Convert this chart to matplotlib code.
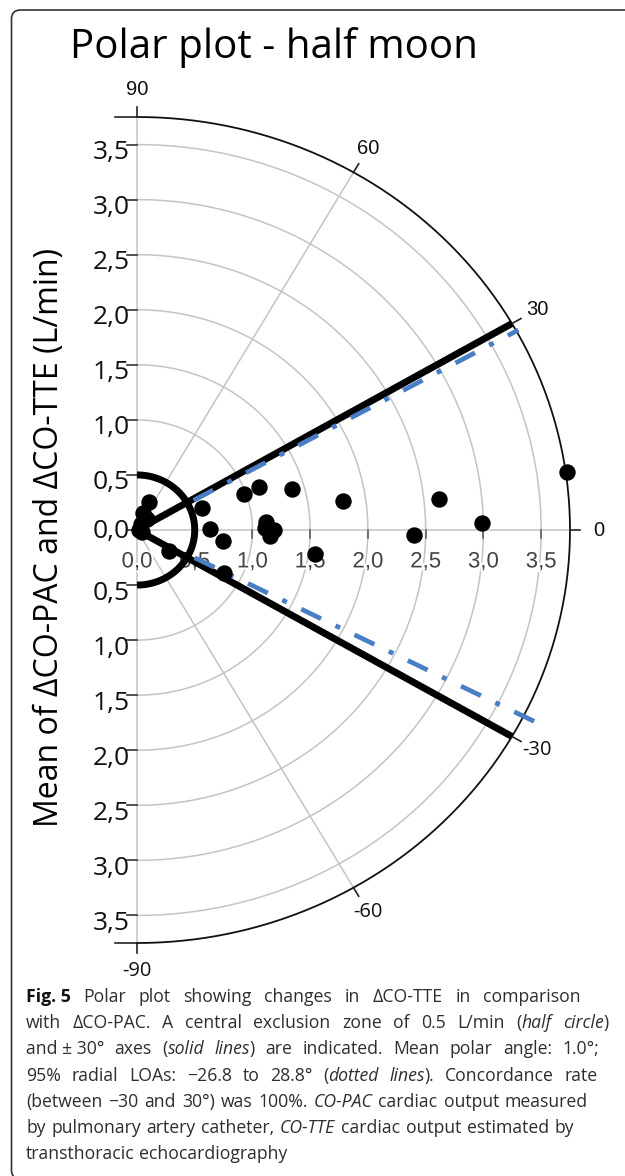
import numpy as np
import matplotlib.pyplot as plt
import matplotlib.patheffects as pe
from matplotlib.patches import FancyBboxPatch
from matplotlib.transforms import IdentityTransform

W, H = 625, 1176

# polar data: angle (deg) and radius (L/min)
angle_deg = [8.0, 6.1, 1.2, -1.0, 8.3, -8.1, 15.4, 20.2, 19.7, 3.6, 1.0, 0.0,
             -2.5, 0.9, -7.7, 19.3, -27.2, -34.2, 68.2, 71.6, 59.0, 0.0, -21.8, 48.0]
radius = [3.76, 2.63, 2.99, 2.40, 1.80, 1.56, 1.39, 1.13, 0.98, 1.12, 1.11, 1.19,
          1.15, 0.63, 0.75, 0.60, 0.85, 0.34, 0.27, 0.16, 0.06, 0.02, 0.05, 0.13]

ring_vals = [0.5, 1.0, 1.5, 2.0, 2.5, 3.0, 3.5]
tick_vals = [0.0, 0.5, 1.0, 1.5, 2.0, 2.5, 3.0, 3.5]
tick_labels = ['0,0', '0,5', '1,0', '1,5', '2,0', '2,5', '3,0', '3,5']
spokes = [90, 60, 30, 0, -30, -60, -90]
spoke_labels = ['90', '60', '30', '0', '-30', '-60', '-90']
r_max = 3.75
exclusion_r = 0.5
agree_lim = [30, -30]
loa_deg = [28.8, -26.8]

title = 'Polar plot - half moon'
ylabel = 'Mean of ΔCO-PAC and ΔCO-TTE (L/min)'

caption = [
    [('Fig.\u00a05', 'b'), (' Polar plot showing changes in ΔCO-TTE in comparison', 'n')],
    [('with ΔCO-PAC. A central exclusion zone of 0.5 L/min (', 'n'), ('half circle', 'i'), (')', 'n')],
    [('and\u00a0±\u00a030° axes (', 'n'), ('solid lines', 'i'), (') are indicated. Mean polar angle: 1.0°;', 'n')],
    [('95% radial LOAs: −26.8 to 28.8° (', 'n'), ('dotted lines', 'i'), ('). Concordance rate', 'n')],
    [('(between −30 and 30°) was 100%. ', 'n'), ('CO-PAC', 'i'), (' cardiac output measured', 'n')],
    [('by pulmonary artery catheter, ', 'n'), ('CO-TTE', 'i'), (' cardiac output estimated by', 'n')],
    [('transthoracic echocardiography', 'n')],
]
caption_right = [581, 609, 599, 598, 588, 574, None]

fig = plt.figure(figsize=(W / 100, H / 100), dpi=100)

# border box round the figure
box = FancyBboxPatch((11.5, -3), 700, 1169, boxstyle='round,pad=0,rounding_size=9',
                     transform=IdentityTransform(), fill=False, ec='#333333', lw=1.2)
fig.add_artist(box)

ax = fig.add_axes([137 / W, 1 - 943 / H, 433 / W, 826 / H])
ax.set_xlim(0, r_max)
ax.set_ylim(-r_max, r_max)
ax.axis('off')


def pol(r, deg):
    t = np.deg2rad(deg)
    return r * np.cos(t), r * np.sin(t)


th = np.linspace(-90, 90, 361)
grey = '#c4c4c4'
for r in ring_vals:
    x, y = pol(r, th)
    ax.plot(x, y, color=grey, lw=1.1, clip_on=False, zorder=1)
x, y = pol(r_max, th)
ax.plot(x, y, color='#111111', lw=1.3, clip_on=False, zorder=2)

for a in spokes:
    x, y = pol(np.array([0, r_max]), a)
    ax.plot(x, y, color=grey, lw=1.1, clip_on=False, zorder=1)
    x, y = pol(np.array([r_max, r_max + 0.09]), a)
    ax.plot(x, y, color='#222222', lw=1.2, clip_on=False, zorder=2)

# left axis ticks and labels (both halves)
for v, lab in zip(tick_vals, tick_labels):
    for s in ([1, -1] if v > 0 else [1]):
        ax.plot([-0.087, 0], [s * v, s * v], color='#333333', lw=1.2, clip_on=False, zorder=2)
        dy = -0.073 if v > 0 else -0.01
        ax.text(-0.06, s * v + dy, lab, ha='right', va='center', fontsize=19,
                family=['Open Sans', 'DejaVu Sans'], color='#111111')
for s in [1, -1]:
    ax.plot([-0.19, 0], [s * r_max, s * r_max], color='#222222', lw=1.2, clip_on=False, zorder=2)

# bottom (radial) axis ticks and labels
for v, lab in zip(tick_vals, tick_labels):
    if v > 0:
        ax.plot([v, v], [0, -0.07], color='#555555', lw=1.1, clip_on=False, zorder=2)
    ax.text(v, -0.29, lab, ha='center', va='center', fontsize=16,
            family=['Liberation Sans'], color='#444444', zorder=2,
            path_effects=[pe.withStroke(linewidth=3, foreground='white')])

# angle labels
for a, lab in zip(spokes, spoke_labels):
    x, y = pol(4.0, a)
    fam = ['Liberation Sans'] if not lab.startswith('-') else ['Open Sans', 'DejaVu Sans']
    ax.text(x, y, lab, ha='center', va='center', fontsize=14.5, family=fam, color='#111111')

# +-30 degree limits and exclusion half circle
for a in agree_lim:
    x, y = pol(np.array([0, r_max]), a)
    ax.plot(x, y, color='black', lw=5, solid_capstyle='butt', clip_on=False, zorder=3)
x, y = pol(exclusion_r, th)
ax.plot(x, y, color='black', lw=5, solid_capstyle='butt', clip_on=False, zorder=3)

# radial limits of agreement
for a, r_end in zip(loa_deg, [3.77, 3.89]):
    x, y = pol(np.array([0.56, r_end]), a)
    ax.plot(x, y, color='#4a7ec4', lw=3.4, linestyle=(0, (4.66, 3.4, 1.06, 3.4)),
            clip_on=False, zorder=3)

x, y = pol(np.array(radius), np.array(angle_deg))
ax.plot(x, y, 'o', color='black', ms=10.8, clip_on=False, zorder=5)

fig.text(70 / W, 1 - 58 / H, title, ha='left', va='baseline', fontsize=29,
         family=['Open Sans', 'DejaVu Sans'], color='black')
fig.text(50 / W, 1 - 537 / H, ylabel, ha='center', va='center', rotation=90, fontsize=23,
         family=['Open Sans', 'DejaVu Sans'], color='black')

# caption, laid out word by word
renderer = fig.canvas.get_renderer()
cap_size = 12.7
styles = {'n': dict(weight='normal', style='normal', color='#2e2e2e'),
          'b': dict(weight='bold', style='normal', color='#111111'),
          'i': dict(weight='normal', style='italic', color='#2e2e2e')}
for i, (segs, right) in enumerate(zip(caption, caption_right)):
    words = [[]]
    for txt, st in segs:
        parts = txt.split(' ')
        for k, p in enumerate(parts):
            if k > 0:
                words.append([])
            if p:
                words[-1].append((p, st))
    words = [w for w in words if w]
    base = 1002 + 26.2 * i
    made = []
    for w in words:
        pieces = []
        for p, st in w:
            t = fig.text(0, 1 - base / H, p, fontsize=cap_size, va='baseline', ha='left',
                         family=['Open Sans', 'DejaVu Sans'], **styles[st])
            pieces.append((t, t.get_window_extent(renderer).width))
        made.append(pieces)
    widths = [sum(pw for _, pw in pieces) for pieces in made]
    if right is None:
        gap = 4.6
    else:
        gap = (right - 26 - sum(widths)) / (len(made) - 1)
    xpos = 26.0
    for pieces, wd in zip(made, widths):
        xx = xpos
        for t, pw in pieces:
            t.set_x(xx / W)
            xx += pw
        xpos += wd + gap

fig.savefig('out.png', dpi=100)
